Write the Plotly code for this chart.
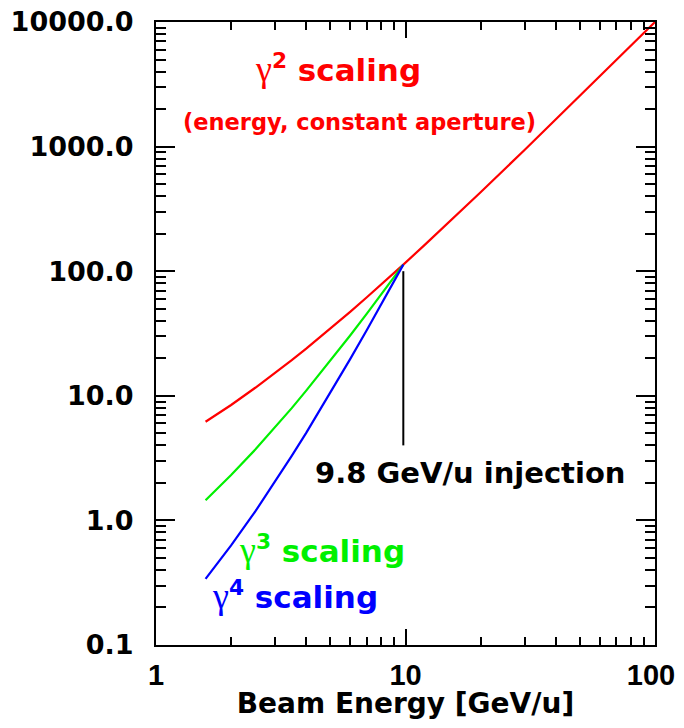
import plotly.graph_objects as go

# ---- data ----
energy_red = [1.58, 1.8, 2, 2.5, 3, 3.5, 4, 5, 6, 7, 8, 9.8, 12, 15, 20, 30, 50, 70, 100]
red_vals = [6.19, 7.32, 8.44, 11.6, 15.2, 19.3, 23.9, 34.5, 47.2, 61.8, 78.3, 113, 164, 249, 430, 940, 2547, 4940, 10000]

energy_low = [1.58, 1.8, 2, 2.5, 3, 3.5, 4, 5, 6, 7, 8, 9.8]
green_vals = [1.45, 1.86, 2.31, 3.70, 5.56, 7.96, 11.0, 19.1, 30.5, 45.7, 65.2, 113]
blue_vals = [0.339, 0.474, 0.630, 1.18, 2.04, 3.29, 5.04, 10.6, 19.7, 33.7, 54.2, 113]

injection_x = [9.8, 9.8]
injection_y = [100, 4.0]

y_tickvals = [0.1, 1, 10, 100, 1000, 10000]
y_ticktext = ["0.1", "1.0", "10.0", "100.0", "1000.0", "10000.0"]
x_tickvals = [1, 10, 100]
x_ticktext = ["1", "10", "100\u00a0"]

RED = "#ff0000"
GREEN = "#00f000"
BLUE = "#0000ff"
FONT = "DejaVu Sans"
XFONT = "Liberation Sans"
GAMMA = '<span style="font-family:Liberation Serif;font-weight:normal;font-size:36px">γ</span>'

fig = go.Figure()
fig.add_trace(go.Scatter(x=energy_red, y=red_vals, mode="lines",
                         line=dict(color=RED, width=2.2), showlegend=False))
fig.add_trace(go.Scatter(x=energy_low, y=green_vals, mode="lines",
                         line=dict(color=GREEN, width=2.2), showlegend=False))
fig.add_trace(go.Scatter(x=energy_low, y=blue_vals, mode="lines",
                         line=dict(color=BLUE, width=2.2), showlegend=False))
fig.add_trace(go.Scatter(x=injection_x, y=injection_y, mode="lines",
                         line=dict(color="black", width=2), showlegend=False))

axis_common = dict(
    showgrid=False, zeroline=False, showline=True, linecolor="black", linewidth=2,
    mirror="allticks", ticks="inside", tickcolor="black", tickwidth=1.5,
    ticklabeloverflow="allow",
)

fig.update_xaxes(
    type="log", range=[0, 2], tickvals=x_tickvals, ticktext=x_ticktext,
    ticklen=16,
    minor=dict(ticks="inside", ticklen=8, tickcolor="black", tickwidth=1.5, dtick="D1", showgrid=False),
    tickfont=dict(family=XFONT, size=29, color="black", weight="bold"),
    ticklabelstandoff=3,
    title=dict(text="Beam Energy [GeV/u]", standoff=11,
               font=dict(family=FONT, size=28, color="black", weight="bold")),
    **axis_common,
)
fig.update_yaxes(
    type="log", range=[-1, 4], tickvals=y_tickvals, ticktext=y_ticktext,
    ticklen=19,
    minor=dict(ticks="inside", ticklen=10, tickcolor="black", tickwidth=1.5, dtick="D1", showgrid=False),
    tickfont=dict(family=FONT, size=27, color="black", weight="bold"),
    ticklabelstandoff=15,
    **axis_common,
)

annotations = [
    dict(text=GAMMA + "<sup>2</sup> scaling", x=0.3647, y=0.925, color=RED, size=31),
    dict(text="(energy, constant aperture)", x=0.4088, y=0.8395, color=RED, size=22.5),
    dict(text="9.8 GeV/u injection", x=0.6293, y=0.2761, color="black", size=29),
    dict(text=GAMMA + "<sup>3</sup> scaling", x=0.3327, y=0.1525, color=GREEN, size=31),
    dict(text=GAMMA + "<sup>4</sup> scaling", x=0.2786, y=0.0787, color=BLUE, size=31),
]
for a in annotations:
    fig.add_annotation(
        text=a["text"], x=a["x"], y=a["y"], xref="paper", yref="paper",
        xanchor="center", yanchor="middle", showarrow=False,
        font=dict(family=FONT, size=a["size"], color=a["color"], weight="bold"),
    )

# the page adds an 8 px body margin; the figure is sized so the plot box lands
# where the reference has it
fig.update_layout(
    width=668, height=712,
    margin=dict(l=148, r=21, t=14, b=75, autoexpand=False),
    plot_bgcolor="white", paper_bgcolor="white",
)

fig.write_html("out.html")
